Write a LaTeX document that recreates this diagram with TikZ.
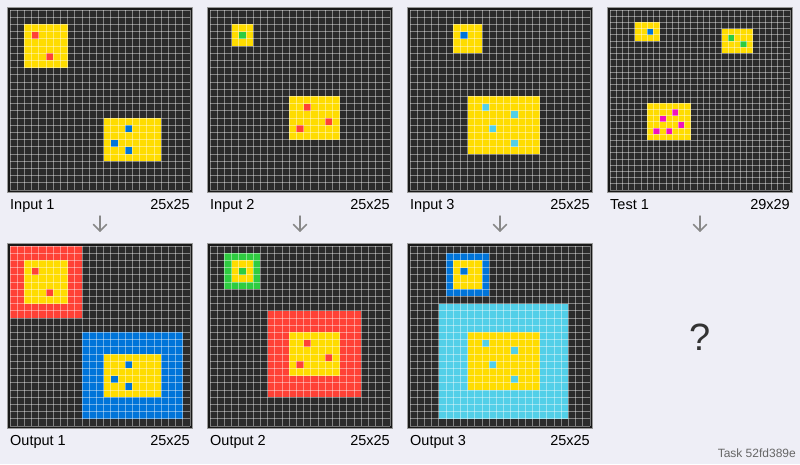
\documentclass[tikz,border=0pt]{standalone}
\usepackage{fontspec}
\setmainfont{Liberation Sans}
\definecolor{bgc}{RGB}{238,238,246}
\definecolor{framecol}{RGB}{24,24,24}
\definecolor{cellbg}{RGB}{43,43,43}
\definecolor{Y}{RGB}{255,220,0}
\definecolor{R}{RGB}{255,65,54}
\definecolor{B}{RGB}{0,116,217}
\definecolor{G}{RGB}{46,204,64}
\definecolor{C}{RGB}{82,207,232}
\definecolor{M}{RGB}{240,18,190}
\definecolor{arrowc}{RGB}{136,136,136}
\tikzset{
  gl/.style={draw=white, draw opacity=0.42, line width=0.7pt},
  lbl/.style={inner sep=0pt, font=\fontsize{14.5}{17}\selectfont, text=black},
  downarrow/.style={draw=arrowc, line width=1.5pt, line cap=round, line join=round},
}
\newcommand\panelstart[3]{%
  \begin{scope}[shift={(#1,#2)}]
  \filldraw[fill=framecol, draw=gray!80, line width=0.6pt] (-2.6,-2.6) rectangle (182.6,182.6);
  \fill[cellbg] (0,0) rectangle (180,180);
  \pgfmathsetmacro\cellsz{180/#3}%
  \begin{scope}[x=\cellsz pt, y=-\cellsz pt]}
\newcommand\panelend[1]{%
  \foreach \i in {0,...,#1} {\draw[gl] (\i,0) -- (\i,#1); \draw[gl] (0,\i) -- (#1,\i);}
  \end{scope}\end{scope}}
\newcommand\rc[5]{\fill[#5] (#2,#1) rectangle ++(#4,#3);}
\newcommand\px[3]{\fill[#3] (#2,#1) rectangle ++(1,1);}
\begin{document}
\begin{tikzpicture}[x=1pt, y=-1pt]
\useasboundingbox (0,0) rectangle (800,464);
\fill[bgc] (0,0) rectangle (800,464);

% Input 1
\panelstart{10}{10}{25}
\rc{2}{2}{6}{6}{Y} \px{3}{3}{R} \px{6}{5}{R}
\rc{15}{13}{6}{8}{Y} \px{16}{16}{B} \px{18}{14}{B} \px{19}{16}{B}
\panelend{25}
% Output 1
\panelstart{10}{246}{25}
\rc{0}{0}{10}{10}{R} \rc{2}{2}{6}{6}{Y} \px{3}{3}{R} \px{6}{5}{R}
\rc{12}{10}{12}{14}{B} \rc{15}{13}{6}{8}{Y} \px{16}{16}{B} \px{18}{14}{B} \px{19}{16}{B}
\panelend{25}
% Input 2
\panelstart{210}{10}{25}
\rc{2}{3}{3}{3}{Y} \px{3}{4}{G}
\rc{12}{11}{6}{7}{Y} \px{13}{13}{R} \px{15}{16}{R} \px{16}{12}{R}
\panelend{25}
% Output 2
\panelstart{210}{246}{25}
\rc{1}{2}{5}{5}{G} \rc{2}{3}{3}{3}{Y} \px{3}{4}{G}
\rc{9}{8}{12}{13}{R} \rc{12}{11}{6}{7}{Y} \px{13}{13}{R} \px{15}{16}{R} \px{16}{12}{R}
\panelend{25}
% Input 3
\panelstart{410}{10}{25}
\rc{2}{6}{4}{4}{Y} \px{3}{7}{B}
\rc{12}{8}{8}{10}{Y} \px{13}{10}{C} \px{14}{14}{C} \px{16}{11}{C} \px{18}{14}{C}
\panelend{25}
% Output 3
\panelstart{410}{246}{25}
\rc{1}{5}{6}{6}{B} \rc{2}{6}{4}{4}{Y} \px{3}{7}{B}
\rc{8}{4}{16}{18}{C} \rc{12}{8}{8}{10}{Y} \px{13}{10}{C} \px{14}{14}{C} \px{16}{11}{C} \px{18}{14}{C}
\panelend{25}
% Test 1
\panelstart{610}{10}{29}
\rc{2}{4}{3}{4}{Y} \px{3}{6}{B}
\rc{3}{18}{4}{5}{Y} \px{4}{19}{G} \px{5}{21}{G}
\rc{15}{6}{6}{7}{Y} \px{16}{10}{M} \px{17}{8}{M} \px{18}{11}{M} \px{19}{7}{M} \px{19}{9}{M}
\panelend{29}

% labels
\node[lbl, anchor=base west] (li1) at (10,209) {Input 1};
\node[lbl, anchor=base east] (si1) at (190,209) {25x25};
\node[lbl, anchor=base west] (li2) at (210,209) {Input 2};
\node[lbl, anchor=base east] (si2) at (390,209) {25x25};
\node[lbl, anchor=base west] (li3) at (410,209) {Input 3};
\node[lbl, anchor=base east] (si3) at (590,209) {25x25};
\node[lbl, anchor=base west] (lt1) at (610,209) {Test 1};
\node[lbl, anchor=base east] (st1) at (790,209) {29x29};
\node[lbl, anchor=base west] (lo1) at (10,445) {Output 1};
\node[lbl, anchor=base east] (so1) at (190,445) {25x25};
\node[lbl, anchor=base west] (lo2) at (210,445) {Output 2};
\node[lbl, anchor=base east] (so2) at (390,445) {25x25};
\node[lbl, anchor=base west] (lo3) at (410,445) {Output 3};
\node[lbl, anchor=base east] (so3) at (590,445) {25x25};

% arrows
\foreach \ax/\nm in {100/a1,300/a2,500/a3,700/a4} {
  \coordinate (\nm t) at (\ax,216);
  \coordinate (\nm b) at (\ax,231);
  \draw[downarrow] (\nm t) -- (\nm b);
  \draw[downarrow] (\ax-6.5,224.5) -- (\nm b) -- (\ax+6.5,224.5);
}

\node[inner sep=0pt, font=\fontsize{38}{40}\selectfont, text={rgb,255:red,51;green,51;blue,51}] (q) at (700,337) {?};
\node[inner sep=0pt, anchor=base east, font=\fontsize{12}{14}\selectfont, text={rgb,255:red,102;green,102;blue,102}] (task) at (796,457.5) {Task 52fd389e};
\end{tikzpicture}
\end{document}
